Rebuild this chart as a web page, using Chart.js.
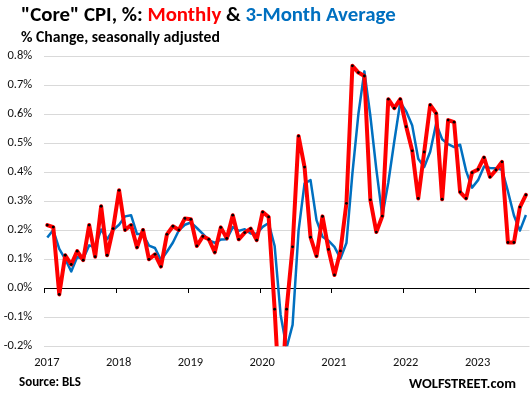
<!DOCTYPE html>
<html><head><meta charset="utf-8">
<script src="https://cdn.jsdelivr.net/npm/chart.js@4.4.0/dist/chart.umd.min.js"></script>
<style>
html,body{margin:0;padding:0;background:#fff;width:532px;height:399px;overflow:hidden;}
#wrap{position:relative;width:532px;height:399px;}
canvas{position:absolute;left:0;top:0;}
.t{position:absolute;white-space:nowrap;font-weight:bold;line-height:1;color:#000;
   font-family:"Carlito","Liberation Sans Narrow","Liberation Sans",Arial,sans-serif;}
</style></head><body>
<div id="wrap">
<canvas id="c" width="532" height="399"></canvas>
<div class="t" id="title">"Core" CPI, %: <span style="color:#FF0000">Monthly</span> &amp; <span style="color:#0070C0">3-Month Average</span></div>
<div class="t" id="sub">% Change, seasonally adjusted</div>
<div class="t" id="src">Source: BLS</div>
<div class="t" id="wolf">WOLFSTREET.com</div>
</div>
<script>
// ---- data (Jan 2017 .. Sep 2023), % change m/m ----
const yearLabels = ['2017','2018','2019','2020','2021','2022','2023'];
const monthNames = ['Jan','Feb','Mar','Apr','May','Jun','Jul','Aug','Sep','Oct','Nov','Dec'];

const monthlyCore = [
  0.218, 0.211, -0.021, 0.114, 0.082, 0.128, 0.097, 0.218, 0.109, 0.283, 0.114, 0.206,
  0.338, 0.201, 0.218, 0.141, 0.201, 0.100, 0.117, 0.075, 0.186, 0.214, 0.201, 0.241,
  0.238, 0.146, 0.179, 0.169, 0.124, 0.210, 0.172, 0.252, 0.169, 0.192, 0.206, 0.166,
  0.263, 0.246, -0.072, -0.450, -0.072, 0.143, 0.525, 0.418, 0.176, 0.111, 0.248, 0.134,
  0.046, 0.129, 0.293, 0.767, 0.744, 0.732, 0.305, 0.194, 0.249, 0.652, 0.621, 0.652,
  0.557, 0.474, 0.310, 0.470, 0.632, 0.603, 0.307, 0.580, 0.573, 0.332, 0.310, 0.399,
  0.410, 0.451, 0.384, 0.408, 0.436, 0.158, 0.158, 0.280, 0.322
];

const threeMonthAvg = [
  0.175, 0.201, 0.136, 0.101, 0.058, 0.108, 0.102, 0.148, 0.141, 0.203, 0.169, 0.201,
  0.219, 0.248, 0.252, 0.187, 0.187, 0.147, 0.139, 0.097, 0.126, 0.158, 0.200, 0.219,
  0.227, 0.208, 0.188, 0.165, 0.157, 0.168, 0.169, 0.211, 0.198, 0.204, 0.189, 0.188,
  0.212, 0.225, 0.146, -0.092, -0.205, -0.126, 0.199, 0.362, 0.373, 0.235, 0.178, 0.164,
  0.143, 0.103, 0.156, 0.396, 0.601, 0.748, 0.594, 0.410, 0.249, 0.365, 0.507, 0.642,
  0.610, 0.561, 0.447, 0.418, 0.471, 0.568, 0.514, 0.497, 0.487, 0.495, 0.405, 0.347,
  0.373, 0.420, 0.415, 0.414, 0.409, 0.334, 0.251, 0.199, 0.253
];

const yTickValues = [-0.2, -0.1, 0.0, 0.1, 0.2, 0.3, 0.4, 0.5, 0.6, 0.7, 0.8];

// month categories built from years
const months = [];
yearLabels.forEach(y => monthNames.forEach(m => months.push(m + ' ' + y)));
months.length = monthlyCore.length;

// ---- fonts ----
const FONT = '"Carlito","Liberation Sans Narrow","Liberation Sans",Arial,sans-serif';
const mctx = document.createElement('canvas').getContext('2d');
function textW(str, px, weight) { mctx.font = weight + ' ' + px + 'px ' + FONT; return mctx.measureText(str).width; }
const tickPx = Math.round(100 * 25.3 / textW('2017', 100, 'normal') * 10) / 10;

function place(id, left, baseline, width) {
  const el = document.getElementById(id);
  el.style.fontSize = '100px';
  const w = el.getBoundingClientRect().width;
  el.style.fontSize = (100 * width / w) + 'px';
  const mark = document.createElement('span');
  mark.style.cssText = 'display:inline-block;width:0;height:0;vertical-align:baseline';
  el.appendChild(mark);
  const b = mark.offsetTop;
  el.style.left = left + 'px';
  el.style.top = (baseline - b) + 'px';
}
place('title', 21, 20.7, 375);
place('sub', 21, 42, 199);
place('src', 19, 386, 62);
place('wolf', 409, 388.3, 107);

// ---- chart ----
const xTickVals = yearLabels.map((y, i) => i * 12 - 0.5);

const tickMarks = {
  id: 'tickMarks',
  beforeDatasetsDraw(chart) {
    const { ctx, scales: { x, y } } = chart;
    const y0 = Math.round(y.getPixelForValue(0));
    ctx.save();
    ctx.strokeStyle = '#000';
    ctx.lineWidth = 1;
    x.ticks.forEach(t => {
      const px = Math.round(x.getPixelForValue(t.value)) + 0.5;
      ctx.beginPath();
      ctx.moveTo(px, y0);
      ctx.lineTo(px, y0 + 5);
      ctx.stroke();
    });
    ctx.restore();
  }
};

new Chart(document.getElementById('c'), {
  type: 'line',
  data: {
    labels: months,
    datasets: [
      {
        label: 'Monthly',
        data: monthlyCore.map((v, i) => ({ x: i, y: v })),
        borderColor: '#FF0000',
        borderWidth: 4,
        borderJoinStyle: 'round',
        borderCapStyle: 'round',
        pointRadius: 1.4,
        pointBackgroundColor: '#000',
        pointBorderWidth: 0,
        pointHoverRadius: 0,
        tension: 0
      },
      {
        label: '3-Month Average',
        data: threeMonthAvg.map((v, i) => ({ x: i, y: v })),
        borderColor: '#0070C0',
        borderWidth: 2.5,
        borderJoinStyle: 'round',
        pointRadius: 0,
        tension: 0
      }
    ]
  },
  options: {
    responsive: false,
    animation: false,
    devicePixelRatio: 1,
    layout: { padding: { left: 0, right: 2.5, top: 56.3, bottom: 0 } },
    plugins: { legend: { display: false }, tooltip: { enabled: false }, title: { display: false } },
    scales: {
      x: {
        type: 'linear',
        min: -0.5,
        max: 80.6,
        afterBuildTicks: s => { s.ticks = xTickVals.map(v => ({ value: v })); },
        afterFit: s => { s.height = 52.7; },
        ticks: {
          callback: (v) => yearLabels[Math.round((v + 0.5) / 12)],
          autoSkip: false,
          maxRotation: 0,
          labelOffset: 2.5,
          padding: 9.2,
          color: '#111',
          font: { family: FONT, size: tickPx }
        },
        grid: { display: false, drawTicks: false },
        border: { display: false }
      },
      y: {
        min: -0.2,
        max: 0.8,
        afterBuildTicks: s => { s.ticks = yTickValues.map(v => ({ value: v })); },
        afterFit: s => { s.width = 44.3; },
        ticks: {
          callback: v => v.toFixed(1) + '%',
          padding: 12,
          color: '#111',
          font: { family: FONT, size: tickPx }
        },
        grid: {
          color: c => (Math.abs(c.tick.value) < 1e-9 ? '#000' : '#d9d9d9'),
          lineWidth: 1,
          drawTicks: false
        },
        border: { display: false }
      }
    }
  },
  plugins: [tickMarks]
});
</script>
</body></html>
